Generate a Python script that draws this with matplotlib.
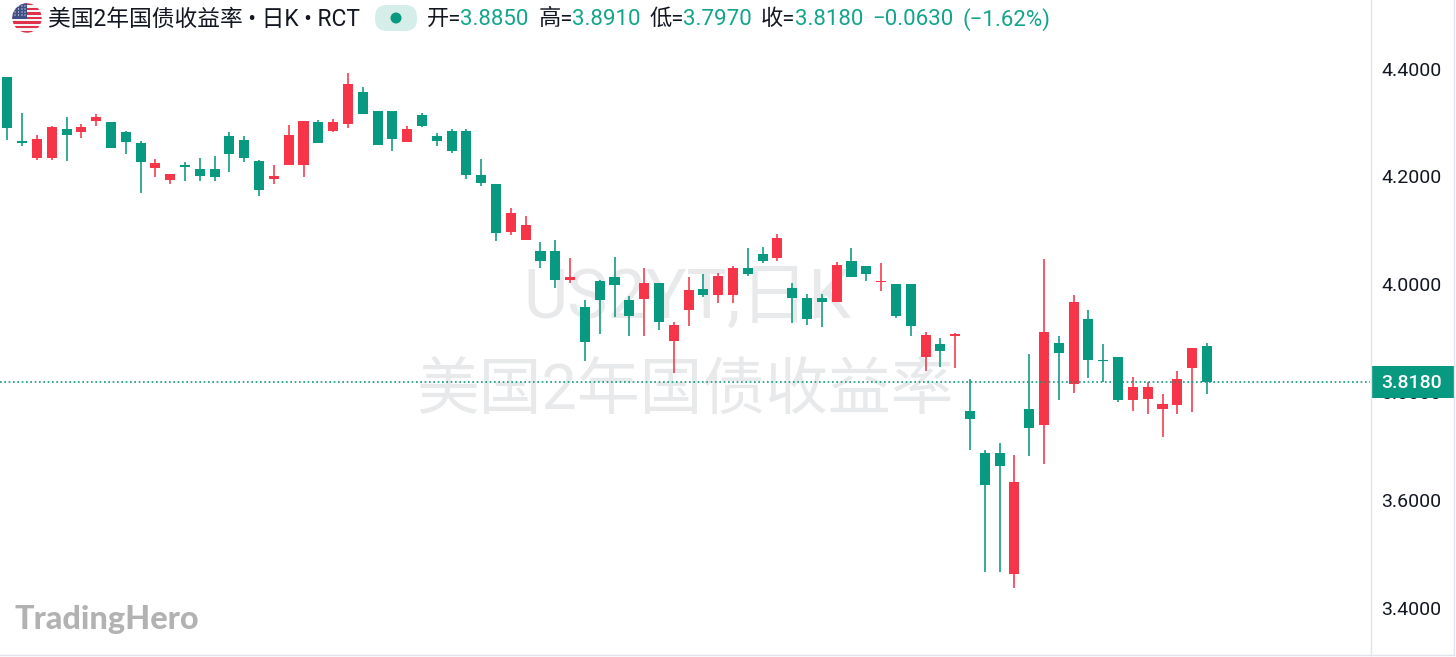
import matplotlib
matplotlib.use("Agg")
import matplotlib.pyplot as plt
from matplotlib.patches import Circle, FancyBboxPatch, Rectangle
from matplotlib.lines import Line2D

opens = [4.384,4.266,4.235,4.235,4.288,4.283,4.302,4.300,4.282,4.262,4.216,4.194,4.222,4.214,4.214,4.274,4.267,4.228,4.195,4.222,4.222,4.301,4.285,4.297,4.356,4.321,4.321,4.263,4.313,4.274,4.285,4.285,4.202,4.185,4.097,4.083,4.061,4.061,4.008,3.958,4.006,4.014,3.971,3.972,4.002,3.895,3.952,3.991,3.981,3.981,4.030,4.057,4.049,3.993,3.975,3.975,3.968,4.043,4.034,4.004,4.001,4.001,3.866,3.889,3.905,3.766,3.687,3.687,3.463,3.769,3.739,3.891,3.816,3.935,3.860,3.865,3.786,3.787,3.768,3.776,3.845,3.885]
highs = [4.384,4.318,4.276,4.293,4.310,4.297,4.315,4.300,4.285,4.266,4.232,4.205,4.226,4.234,4.238,4.282,4.274,4.230,4.222,4.295,4.302,4.304,4.306,4.391,4.365,4.321,4.321,4.293,4.317,4.280,4.287,4.287,4.232,4.185,4.141,4.127,4.079,4.082,4.048,3.970,4.008,4.051,3.978,4.030,4.002,3.931,4.014,4.020,4.021,4.033,4.067,4.069,4.094,4.002,3.982,3.982,4.041,4.067,4.034,4.039,4.001,4.001,3.912,3.900,3.910,3.825,3.693,3.705,3.684,3.871,4.046,3.905,3.981,3.952,3.889,3.865,3.829,3.819,3.796,3.839,3.882,3.891]
lows = [4.267,4.257,4.230,4.230,4.229,4.272,4.293,4.252,4.242,4.170,4.199,4.185,4.191,4.191,4.191,4.208,4.227,4.164,4.185,4.222,4.199,4.261,4.283,4.290,4.315,4.258,4.247,4.263,4.292,4.256,4.243,4.196,4.183,4.080,4.091,4.083,4.031,3.994,4.002,3.858,3.907,3.939,3.905,3.905,3.915,3.836,3.923,3.977,3.966,3.966,4.016,4.040,4.043,3.929,3.924,3.921,3.968,4.014,4.007,3.988,3.938,3.905,3.839,3.847,3.845,3.693,3.467,3.467,3.437,3.682,3.666,3.786,3.798,3.827,3.819,3.781,3.766,3.760,3.717,3.760,3.763,3.797]
closes = [4.289,4.262,4.269,4.291,4.276,4.291,4.310,4.252,4.264,4.226,4.224,4.205,4.217,4.201,4.199,4.241,4.235,4.175,4.201,4.277,4.302,4.261,4.300,4.371,4.315,4.258,4.269,4.287,4.293,4.266,4.248,4.203,4.188,4.095,4.133,4.109,4.043,4.008,4.014,3.893,3.971,3.999,3.941,4.002,3.930,3.924,3.989,3.981,4.015,4.030,4.020,4.043,4.086,3.975,3.936,3.968,4.035,4.014,4.020,4.007,3.942,3.923,3.906,3.876,3.907,3.750,3.628,3.663,3.634,3.734,3.912,3.873,3.968,3.860,3.857,3.786,3.809,3.809,3.779,3.824,3.882,3.818]
price_ticks = [3.4, 3.6, 3.8, 4.0, 4.2, 4.4]
last_price = 3.818
title_text = "美国2年国债收益率 • 日K • RCT"
ohlc_labels = ["开=", "高=", "低=", "收="]
ohlc_values = ["3.8850", "3.8910", "3.7970", "3.8180"]
change_texts = ["−0.0630", "(−1.62%)"]
watermark_lines = ["US2YT,日K", "美国2年国债收益率"]
logo_text = "TradingHero"

W, H = 1456, 657
GREEN = "#089981"
RED = "#F63648"
TEXT = "#131722"
VALUE = "#12A58C"
FONT = ["Roboto", "Noto Sans CJK SC", "DejaVu Sans"]
plt.rcParams["font.family"] = FONT

fig = plt.figure(figsize=(W / 100, H / 100), dpi=100, facecolor="white")
ax = fig.add_axes([0, 1 - 654.5 / H, 1370 / W, 654.5 / H])
ax.set_zorder(1)
ax.patch.set_alpha(0)
ax.set_xlim(-0.493, 92.01)
ax.set_ylim(4.4 - (654.5 - 68.5) / 539.5, 4.4 + 68.5 / 539.5)
for s in ax.spines.values():
    s.set_visible(False)
ax.set_xticks([])
ax.yaxis.tick_right()
ax.set_yticks(price_ticks)
ax.set_yticklabels([f"{v:.4f}" for v in price_ticks], fontsize=14, color=TEXT)
ax.tick_params(axis="y", length=0, pad=8.3)

def px(x, y):
    return x / W, 1 - y / H

# watermarks (under the candles)
fig.text(*px(687, 299), watermark_lines[0], fontsize=49, color="#E8E9EB", ha="center", va="center", zorder=0.5)
fig.text(*px(685, 392), watermark_lines[1], fontsize=45.2, color="#E8E9EB", ha="center", va="center", zorder=0.5)

xs = list(range(len(opens)))
colors = [RED if c >= o else GREEN for o, c in zip(opens, closes)]
ax.vlines(xs, lows, highs, colors=colors, linewidth=1.15, zorder=3)
ax.bar(xs, [abs(c - o) for o, c in zip(opens, closes)],
       bottom=[min(o, c) for o, c in zip(opens, closes)],
       width=0.68, color=colors, linewidth=0, zorder=4)
ax.axhline(last_price, color=GREEN, linewidth=1.2, linestyle=(0, (1.0, 1.6)), zorder=5)

# axis borders
border = "#E0E3EB"
fig.add_artist(Line2D([1370.5 / W] * 2, [1 - 654.5 / H, 1], color=border, lw=1))
fig.add_artist(Line2D([0, 1454 / W], [1 - 654.5 / H] * 2, color=border, lw=1))
fig.add_artist(Line2D([1453.8 / W] * 2, [1 - 654.5 / H, 1], color=border, lw=1))

# last price box
box = Rectangle(px(1371, 398), 82.5 / W, 32 / H, transform=fig.transFigure, facecolor=GREEN, edgecolor="none", zorder=6)
ax.add_patch(box)
box.set_clip_on(False)
ax.text(1412 / W, 1 - 383 / H, f"{last_price:.4f}", transform=fig.transFigure, color="white",
        fontsize=14, fontweight="medium", ha="center", va="center", zorder=7, clip_on=False)

# header
def head(x, s, color=TEXT, size=16):
    fig.text(*px(x, 19.5), s, color=color, fontsize=size, ha="left", va="center", zorder=10)

head(48, title_text, size=16.4)
for x, s in zip([427, 539, 650, 761], ohlc_labels):
    head(x, s)
for x, s in zip([460, 572, 683, 795], ohlc_values):
    head(x, s, VALUE)
for x, s in zip([872, 962], change_texts):
    head(x, s, VALUE)

pill_ax = fig.add_axes([375 / W, 1 - 31 / H, 42 / W, 26 / H])
pill_ax.set_xlim(375, 417); pill_ax.set_ylim(31, 5); pill_ax.axis("off")
pill_ax.add_patch(FancyBboxPatch((375 + 12, 5 + 12), 18, 2, boxstyle="round,pad=12", facecolor="#D6EEE9", edgecolor="none", clip_on=True))
pill_ax.add_patch(Circle((396, 18), 5.5, facecolor=GREEN, edgecolor="none"))

# flag
fa = fig.add_axes([12 / W, 1 - 33 / H, 30 / W, 30 / H])
fa.set_xlim(0, 30); fa.set_ylim(30, 0); fa.axis("off")
clip = Circle((15, 15), 14.7, transform=fa.transData)
for i in range(13):
    r = fa.add_patch(Rectangle((0, i * 30 / 13), 30, 30 / 13 + 0.02, facecolor="#E0314B" if i % 2 == 0 else "#F4F4F6", edgecolor="none"))
    r.set_clip_path(clip)
r = fa.add_patch(Rectangle((0, 0), 15, 16.2, facecolor="#3E4F87", edgecolor="none"))
r.set_clip_path(clip)
for yy in [3, 6, 9, 12]:
    for xx in [3, 6.5, 10, 13]:
        d = fa.add_patch(Circle((xx, yy), 0.6, facecolor="white", edgecolor="none"))
        d.set_clip_path(clip)

# logo
fig.text(*px(14.5, 619), logo_text, fontsize=23.3, fontweight="black", family=["Lato", "DejaVu Sans"],
         color="#B2B2B2", ha="left", va="center", zorder=10)

fig.savefig("out.png", dpi=100, facecolor="white")
